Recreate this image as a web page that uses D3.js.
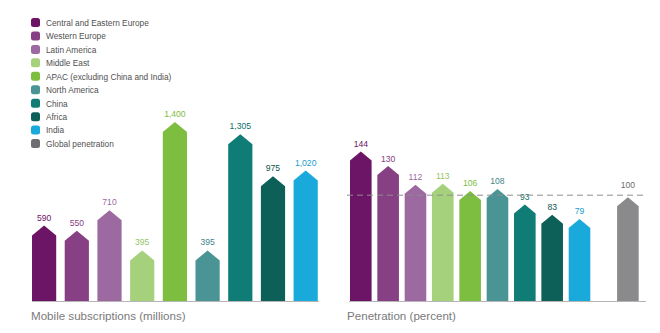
<!DOCTYPE html>
<html>
<head>
<meta charset="utf-8">
<script src="https://cdn.jsdelivr.net/npm/d3@7"></script>
<style>
  html, body { margin: 0; padding: 0; background: #fff; }
  svg { display: block; font-family: "Liberation Sans", Arial, sans-serif; }
</style>
</head>
<body>
<svg id="chart" width="660" height="333"></svg>
<script>
// Regions, in drawing order
const regions = [
  "Central and Eastern Europe",
  "Western Europe",
  "Latin America",
  "Middle East",
  "APAC (excluding China and India)",
  "North America",
  "China",
  "Africa",
  "India"
];
const globalLabel = "Global penetration";

// Mobile subscriptions (millions)
const subscriptions = [590, 550, 710, 395, 1400, 395, 1305, 975, 1020];
const subscriptionLabels = ["590", "550", "710", "395", "1,400", "395", "1,305", "975", "1,020"];

// Penetration (percent)
const penetration = [144, 130, 112, 113, 106, 108, 93, 83, 79];
const globalPenetration = 100;

const colors = ["#6c1466", "#874083", "#9c6aa1", "#a5d17c", "#7dbd40", "#4b9495", "#0f7d75", "#0d6058", "#19a9da"];
const labelColors = ["#6c1466", "#874083", "#9c6aa1", "#97c46a", "#7dbd40", "#3f8587", "#0f6e67", "#0d5550", "#1a9ccc"];
const globalColor = "#8a8a8c";
const globalSwatch = "#6e6e70";

const svg = d3.select("#chart");

// House-shaped bar: rectangle with a pointed top
function housePath(x, w, yTop, yBase, tip) {
  const cx = x + w / 2;
  return `M${x},${yBase}L${x},${yTop + tip}L${cx},${yTop}L${x + w},${yTop + tip}L${x + w},${yBase}Z`;
}

// ---- Legend ----
const legendItems = regions.concat([globalLabel]);
const legendColors = colors.concat([globalSwatch]);
const legend = svg.append("g").attr("transform", "translate(31,18)");
legendItems.forEach((name, i) => {
  const g = legend.append("g").attr("transform", `translate(0,${i * 13.45})`);
  g.append("rect").attr("x", 0).attr("y", 0).attr("width", 9).attr("height", 9)
    .attr("rx", 2.5).attr("fill", legendColors[i]);
  g.append("text").attr("x", 15).attr("y", 7.8).attr("font-size", 8.3)
    .attr("fill", "#505050").text(name);
});

// ---- Left panel: subscriptions ----
const base = 301;
const xL = d3.scaleBand().domain(regions).range([29.4, 320.4]).paddingInner(0.26).paddingOuter(0.08);
const yL = d3.scaleLinear().domain([0, 1400]).range([base, 122]);

svg.append("line").attr("x1", 32).attr("x2", 319).attr("y1", base + 0.5).attr("y2", base + 0.5)
  .attr("stroke", "#b5b5b5").attr("stroke-width", 1);

const left = svg.append("g");
regions.forEach((r, i) => {
  const x = xL(r), w = xL.bandwidth();
  const yt = yL(subscriptions[i]);
  left.append("path").attr("d", housePath(x, w, yt, base, 10)).attr("fill", colors[i]);
  left.append("text").attr("x", x + w / 2).attr("y", yt - 5).attr("text-anchor", "middle")
    .attr("font-size", 8.6).attr("fill", labelColors[i]).text(subscriptionLabels[i]);
});

svg.append("text").attr("x", 31).attr("y", 320).attr("font-size", 11.6)
  .attr("fill", "#7a7a7a").text("Mobile subscriptions (millions)");

// ---- Right panel: penetration ----
const xR = d3.scaleLinear().domain([0, regions.length - 1]).range([360.8, 579.5]);
const barW = 21.6;
const globalSlot = regions.length - 1 + 1.77;
const yR = d3.scaleLinear().domain([0, 144]).range([base, 151.5]);

svg.append("line").attr("x1", 349).attr("x2", 646).attr("y1", base + 0.5).attr("y2", base + 0.5)
  .attr("stroke", "#b5b5b5").attr("stroke-width", 1);

const right = svg.append("g");
penetration.forEach((v, i) => {
  const cx = xR(i);
  const yt = yR(v);
  right.append("path").attr("d", housePath(cx - barW / 2, barW, yt, base, 9)).attr("fill", colors[i]);
  right.append("text").attr("x", cx).attr("y", yt - 4.5).attr("text-anchor", "middle")
    .attr("font-size", 8.6).attr("fill", labelColors[i]).text(v);
});

const gcx = xR(globalSlot);
const gyt = yR(globalPenetration);
right.append("path").attr("d", housePath(gcx - barW / 2, barW, gyt, base, 9)).attr("fill", globalColor);
right.append("text").attr("x", gcx).attr("y", gyt - 9.5).attr("text-anchor", "middle")
  .attr("font-size", 8.6).attr("fill", "#6e6e70").text(globalPenetration);

// Global penetration reference line
svg.append("line").attr("x1", 347).attr("x2", 646)
  .attr("y1", yR(globalPenetration) - 2).attr("y2", yR(globalPenetration) - 2)
  .attr("stroke", "#8e8e8e").attr("stroke-width", 1).attr("stroke-dasharray", "6,4");

svg.append("text").attr("x", 347).attr("y", 320).attr("font-size", 11.6)
  .attr("fill", "#7a7a7a").text("Penetration (percent)");
</script>
</body>
</html>
